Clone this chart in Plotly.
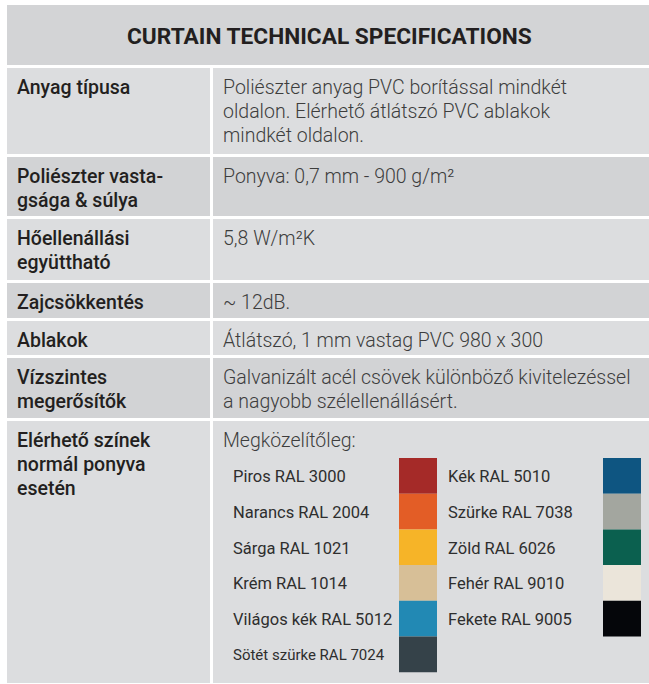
import plotly.graph_objects as go

# ---------------- data ----------------
title = "CURTAIN TECHNICAL SPECIFICATIONS"

row_labels = [
    ["Anyag típusa"],
    ["Poliészter vasta-", "gsága & súlya"],
    ["Hőellenállási", "együttható"],
    ["Zajcsökkentés"],
    ["Ablakok"],
    ["Vízszintes", "megerősítők"],
    ["Elérhető színek", "normál ponyva", "esetén"],
]
row_values = [
    ["Poliészter anyag PVC borítással mindkét",
     "oldalon. Elérhető átlátszó PVC ablakok",
     "mindkét oldalon."],
    ["Ponyva: 0,7 mm - 900 g/m²"],
    ["5,8 W/m²K"],
    ["~ 12dB."],
    ["Átlátszó, 1 mm vastag PVC 980 x 300"],
    ["Galvanizált acél csövek különböző kivitelezéssel",
     "a nagyobb szélellenállásért."],
    ["Megközelítőleg:"],
]

colors_left_names = ["Piros RAL 3000", "Narancs RAL 2004", "Sárga RAL 1021",
                     "Krém RAL 1014", "Világos kék RAL 5012", "Sötét szürke RAL 7024"]
colors_left_hex = ["#a52a28", "#e35d26", "#f6b428", "#d7bf97", "#2289b4", "#354249"]
colors_right_names = ["Kék RAL 5010", "Szürke RAL 7038", "Zöld RAL 6026",
                      "Fehér RAL 9010", "Fekete RAL 9005"]
colors_right_hex = ["#0e5581", "#a3a69f", "#0b604f", "#ebe5da", "#05060a"]

# ---------------- layout constants ----------------
W, H = 649, 684
X0, XDIV, X1 = 7, 210, 649
GAP = 3
HEADER_TOP, HEADER_H = 5, 60
ROW_H = [86, 59, 61, 35, 34, 60, 262]
LINE_H = 24
FIRST_LINE = 19
ROW_FILL = ["#dcdddf", "#d2d3d5"]
HEADER_FILL = "#d3d4d6"
LABEL_FONT = dict(family="Roboto", size=19.5, color="#231f20", weight=500)
VALUE_FONT = dict(family="Roboto", size=19.5, color="#3d3d3d", weight=300)
SW_FONT = dict(family="Roboto", size=16.5, color="#2e2e2e", weight=400)

shapes = []
annotations = []


def add_lines(x, top, lines, font):
    for k, ln in enumerate(lines):
        annotations.append(dict(x=x, y=top + FIRST_LINE + k * LINE_H, xref="x", yref="y",
                                text=ln, showarrow=False, xanchor="left", yanchor="middle",
                                align="left", font=font))


# header
shapes.append(dict(type="rect", xref="x", yref="y", x0=X0, x1=X1,
                   y0=HEADER_TOP, y1=HEADER_TOP + HEADER_H,
                   fillcolor=HEADER_FILL, line_width=0, layer="below"))
annotations.append(dict(x=(X0 + X1) / 2 + 1, y=HEADER_TOP + HEADER_H / 2 + 1, xref="x", yref="y",
                        text="<b>" + title + "</b>", showarrow=False,
                        xanchor="center", yanchor="middle",
                        font=dict(family="Roboto", size=22.7, color="#231f20", weight=700)))

# rows
tops = []
y = HEADER_TOP + HEADER_H + GAP
for i, h in enumerate(ROW_H):
    tops.append(y)
    fill = ROW_FILL[i % 2]
    shapes.append(dict(type="rect", xref="x", yref="y", x0=X0, x1=XDIV,
                       y0=y, y1=y + h, fillcolor=fill, line_width=0, layer="below"))
    shapes.append(dict(type="rect", xref="x", yref="y", x0=XDIV + GAP, x1=X1,
                       y0=y, y1=y + h, fillcolor=fill, line_width=0, layer="below"))
    add_lines(X0 + 8, y, row_labels[i], LABEL_FONT)
    add_lines(XDIV + GAP + 8, y, row_values[i], VALUE_FONT)
    y += h + GAP

# colour swatches
SW_TOP = tops[-1] + 37
SW_H = 35.7
SW_W = 38
cols = [(231, 399, colors_left_names, colors_left_hex),
        (446, 603, colors_right_names, colors_right_hex)]
for tx, sx, names, hexes in cols:
    for j, (nm, hx) in enumerate(zip(names, hexes)):
        y0 = SW_TOP + j * SW_H
        shapes.append(dict(type="rect", xref="x", yref="y", x0=sx, x1=sx + SW_W,
                           y0=y0, y1=y0 + SW_H, fillcolor=hx, line_width=0, layer="above"))
        f = dict(SW_FONT)
        if nm.startswith("Sötét"):
            f["size"] = 15
        annotations.append(dict(x=tx, y=y0 + SW_H / 2 + 1, xref="x", yref="y", text=nm,
                                showarrow=False, xanchor="left", yanchor="middle",
                                font=f))

fig = go.Figure()
fig.update_layout(
    width=W, height=H,
    margin=dict(l=0, r=0, t=0, b=0),
    paper_bgcolor="white", plot_bgcolor="white",
    xaxis=dict(range=[0, W], visible=False, fixedrange=True),
    yaxis=dict(range=[H, 0], visible=False, fixedrange=True),
    shapes=shapes, annotations=annotations, showlegend=False,
)
fig.write_html("out.html", config={"displayModeBar": False},
               post_script="document.body.style.margin='0';document.body.style.overflow='hidden';")
